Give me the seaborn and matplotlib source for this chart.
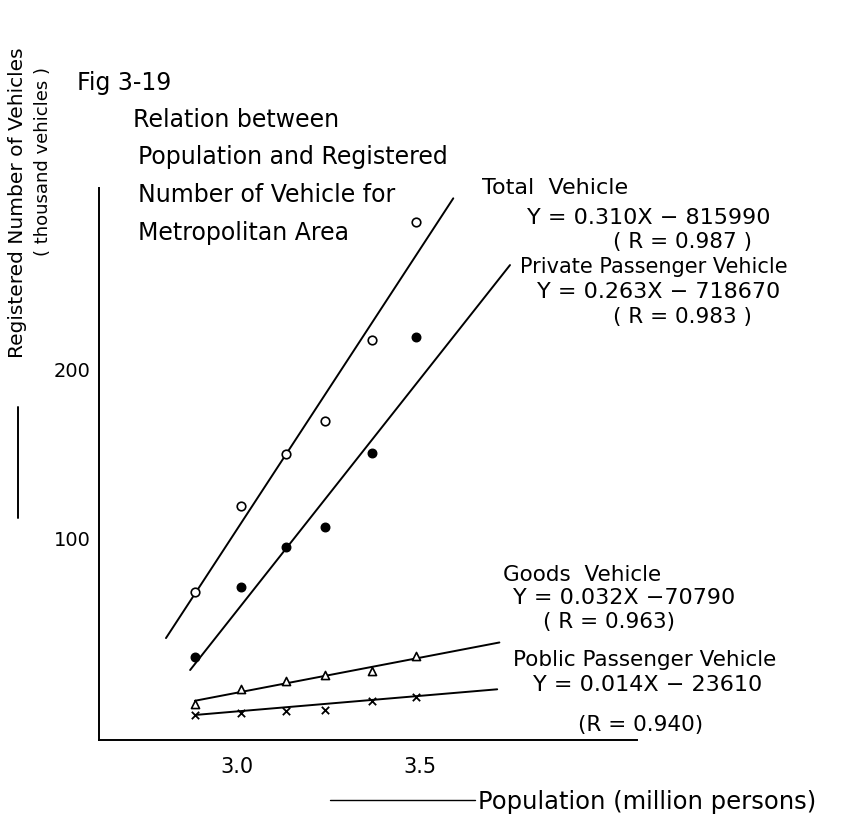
import numpy as np
import pandas as pd
import matplotlib
matplotlib.use("Agg")
import matplotlib.pyplot as plt
import seaborn as sns
from matplotlib.lines import Line2D

# ---------------- data ----------------
population = [2.885, 3.01, 3.135, 3.24, 3.37, 3.49]           # million persons
total_vehicle = [68.2, 118.9, 149.7, 169.4, 217.2, 287.0]     # thousand vehicles
private_passenger = [29.8, 71.2, 94.5, 106.7, 150.1, 218.8]
goods_vehicle = [1.8, 10.5, 15.6, 18.9, 21.5, 30.2]
public_passenger = [-4.7, -3.4, -2.2, -1.8, 3.6, 6.1]

# regression lines as drawn (end points)
total_fit_x = [2.806, 3.591]
total_fit_y = [40.8, 301.0]
private_fit_x = [2.872, 3.746]
private_fit_y = [21.9, 261.5]
goods_fit_x = [2.885, 3.717]
goods_fit_y = [3.7, 38.2]
public_fit_x = [2.885, 3.711]
public_fit_y = [-4.7, 10.5]

x_ticks = [3.0, 3.5]
x_tick_labels = ["3.0", "3.5"]
y_ticks = [100, 200]
y_tick_labels = ["100", "200"]

W, H = 845, 821

sns.set_style("white")
plt.rcParams["font.family"] = ["DejaVu Sans"]
plt.rcParams["text.color"] = "black"
plt.rcParams["xtick.color"] = "black"
plt.rcParams["ytick.color"] = "black"

fig = plt.figure(figsize=(W / 100, H / 100), dpi=100)
ax = fig.add_axes([99 / W, 1 - 740 / H, (637 - 99) / W, (740 - 188) / H])

# fitted lines
for fx, fy in [(total_fit_x, total_fit_y), (private_fit_x, private_fit_y),
               (goods_fit_x, goods_fit_y), (public_fit_x, public_fit_y)]:
    sns.lineplot(x=fx, y=fy, ax=ax, color="black", lw=1.4,
                 estimator=None, sort=False, legend=False)

# points
sns.scatterplot(x=population, y=total_vehicle, ax=ax, marker="o", s=38,
                facecolor="white", edgecolor="black", linewidth=1.2, zorder=3)
sns.scatterplot(x=population, y=private_passenger, ax=ax, marker="o", s=38,
                color="black", edgecolor="black", linewidth=1.0, zorder=3)
sns.scatterplot(x=population, y=goods_vehicle, ax=ax, marker="^", s=34,
                facecolor="white", edgecolor="black", linewidth=1.2, zorder=3)
sns.scatterplot(x=population, y=public_passenger, ax=ax, marker="x", s=28,
                color="black", linewidth=1.3, zorder=3)

ax.set_xlim(2.623, 4.093)
ax.set_ylim(-19.5, 307.1)
ax.set_xticks(x_ticks)
ax.set_xticklabels(x_tick_labels, fontsize=15, color="black")
ax.set_yticks(y_ticks)
ax.set_yticklabels(y_tick_labels, fontsize=14, color="black")
ax.tick_params(axis="x", direction="out", length=4, width=1.2, pad=8, colors="black")
ax.tick_params(axis="y", direction="out", length=5, width=1.2, pad=1, colors="black")
ax.set_xlabel("")
ax.set_ylabel("")
for s in ["top", "right"]:
    ax.spines[s].set_visible(False)
for s in ["left", "bottom"]:
    ax.spines[s].set_linewidth(1.4)
    ax.spines[s].set_color("black")


def ftext(x, y, s, size=16, **kw):
    fig.text(x / W, 1 - y / H, s, fontsize=size, va="center", ha="left", color="black", **kw)


# title block
ftext(77, 83, "Fig 3-19", 17)
ftext(133, 120, "Relation between", 17)
ftext(138, 157, "Population and Registered", 17)
ftext(138, 195, "Number of Vehicle for", 17)
ftext(138, 233, "Metropolitan Area", 17)

# series annotations
ftext(482, 188, "Total  Vehicle", 16)
ftext(527, 218, "Y = 0.310X − 815990", 16)
ftext(613, 242, "( R = 0.987 )", 15.5)
ftext(520, 267, "Private Passenger Vehicle", 15)
ftext(537, 292, "Y = 0.263X − 718670", 16)
ftext(613, 317, "( R = 0.983 )", 15.5)

ftext(503, 575, "Goods  Vehicle", 15.5)
ftext(513, 598, "Y = 0.032X −70790", 16)
ftext(543, 622, "( R = 0.963)", 15.5)
ftext(513, 660, "Poblic Passenger Vehicle", 15.5)
ftext(533, 685, "Y = 0.014X − 23610", 16)
ftext(578, 725, "(R = 0.940)", 15.5)

# x-axis label with leading rule
ftext(478, 802, "Population (million persons)", 17.5)
fig.add_artist(Line2D([330 / W, 475 / W], [1 - 800 / H, 1 - 800 / H],
                      color="black", lw=1.0, transform=fig.transFigure))

# y-axis label with leading rule
fig.text(18 / W, 1 - 203 / H, "Registered Number of Vehicles", rotation=90,
         fontsize=14.5, ha="center", va="center", color="black")
fig.text(43 / W, 1 - 161 / H, "( thousand vehicles )", rotation=90,
         fontsize=13, ha="center", va="center", color="black")
fig.add_artist(Line2D([18 / W, 18 / W], [1 - 407 / H, 1 - 518 / H],
                      color="black", lw=1.4, transform=fig.transFigure))

fig.savefig("out.png", dpi=100, facecolor="white")
